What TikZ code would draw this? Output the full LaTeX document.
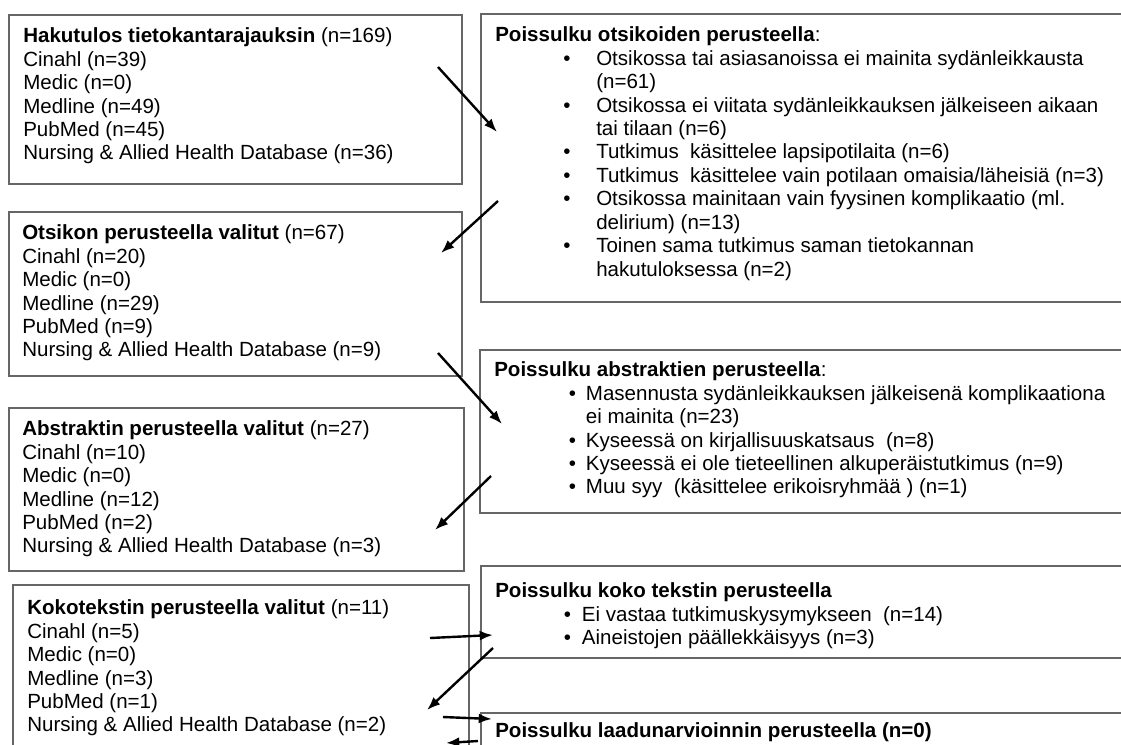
\documentclass[tikz,border=0pt]{standalone}
\usepackage{fontspec}
\setmainfont{Liberation Sans}
\usetikzlibrary{arrows.meta, fit}

\tikzset{
    box/.style={draw=black!60, line width=1.2pt, inner sep=0pt},
    txt/.style={anchor=north west, inner sep=0pt, align=left,
        font=\fontsize{15.4}{17.6}\selectfont},
    flow/.style={-{Latex[length=10pt,width=7.5pt]}, line width=1.8pt},
}
% bullet line and continuation line in the right-hand boxes
\newcommand{\kohta}[3]{\hspace*{#1}\makebox[#2][l]{•}#3}
\newcommand{\jatko}[2]{\hspace*{#1}#2}

\begin{document}
\begin{tikzpicture}[x=0.75pt, y=-0.75pt]
    \useasboundingbox (0,0) rectangle (1121,744);
    \clip (0,0) rectangle (1121,744);

    % left column: selected records
    \node[box, fit={(9,15) (462,184)}]   (hakutulos)  {};
    \node[box, fit={(9,212) (462,376)}]  (otsikko)    {};
    \node[box, fit={(9,408) (464,571)}]  (abstrakti)  {};
    \node[box, fit={(13,585) (469,770)}] (kokoteksti) {};

    % right column: exclusions
    \node[box, fit={(481,14) (1135,302)}]  (poisOtsikko)    {};
    \node[box, fit={(480,350) (1135,513)}] (poisAbstrakti)  {};
    \node[box, fit={(481,566) (1135,658)}] (poisKokoteksti) {};
    \node[box, fit={(481,713) (1135,770)}] (poisLaatu)      {};

    \node[txt] (hakutulosTxt) at (23,27.5) {%
        \textbf{Hakutulos tietokantarajauksin} (n=169)\\
        Cinahl (n=39)\\
        Medic (n=0)\\
        Medline (n=49)\\
        PubMed (n=45)\\
        Nursing \& Allied Health Database (n=36)};
    \node[txt] (otsikkoTxt) at (22,224.5) {%
        \textbf{Otsikon perusteella valitut} (n=67)\\
        Cinahl (n=20)\\
        Medic (n=0)\\
        Medline (n=29)\\
        PubMed (n=9)\\
        Nursing \& Allied Health Database (n=9)};
    \node[txt] (abstraktiTxt) at (22,420.5) {%
        \textbf{Abstraktin perusteella valitut} (n=27)\\
        Cinahl (n=10)\\
        Medic (n=0)\\
        Medline (n=12)\\
        PubMed (n=2)\\
        Nursing \& Allied Health Database (n=3)};
    \node[txt] (kokotekstiTxt) at (27,599.5) {%
        \textbf{Kokotekstin perusteella valitut} (n=11)\\
        Cinahl (n=5)\\
        Medic (n=0)\\
        Medline (n=3)\\
        PubMed (n=1)\\
        Nursing \& Allied Health Database (n=2)};

    \node[txt] (poisOtsikkoTxt) at (495,26.5) {%
        \textbf{Poissulku otsikoiden perusteella}:\\
        \kohta{51pt}{24.75pt}{Otsikossa tai asiasanoissa ei mainita sydänleikkausta}\\
        \jatko{75.75pt}{(n=61)}\\
        \kohta{51pt}{24.75pt}{Otsikossa ei viitata sydänleikkauksen jälkeiseen aikaan}\\
        \jatko{75.75pt}{tai tilaan (n=6)}\\
        \kohta{51pt}{24.75pt}{Tutkimus\ \ käsittelee lapsipotilaita (n=6)}\\
        \kohta{51pt}{24.75pt}{Tutkimus\ \ käsittelee vain potilaan omaisia/läheisiä (n=3)}\\
        \kohta{51pt}{24.75pt}{Otsikossa mainitaan vain fyysinen komplikaatio (ml.}\\
        \jatko{75.75pt}{delirium) (n=13)}\\
        \kohta{51pt}{24.75pt}{Toinen sama tutkimus saman tietokannan}\\
        \jatko{75.75pt}{hakutuloksessa (n=2)}};
    \node[txt] (poisAbstraktiTxt) at (494,361.5) {%
        \textbf{Poissulku abstraktien perusteella}:\\
        \kohta{56pt}{12.75pt}{Masennusta sydänleikkauksen jälkeisenä komplikaationa}\\
        \jatko{68.75pt}{ei mainita (n=23)}\\
        \kohta{56pt}{12.75pt}{Kyseessä on kirjallisuuskatsaus\ \ (n=8)}\\
        \kohta{56pt}{12.75pt}{Kyseessä ei ole tieteellinen alkuperäistutkimus (n=9)}\\
        \kohta{56pt}{12.75pt}{Muu syy\ \ (käsittelee erikoisryhmää ) (n=1)}};
    \node[txt] (poisKokotekstiTxt) at (495,582.5) {%
        \textbf{Poissulku koko tekstin perusteella}\\
        \kohta{51.5pt}{13.5pt}{Ei vastaa tutkimuskysymykseen\ \ (n=14)}\\
        \kohta{51.5pt}{13.5pt}{Aineistojen päällekkäisyys (n=3)}};
    \node[txt] (poisLaatuTxt) at (495,722.5) {%
        \textbf{Poissulku laadunarvioinnin perusteella (n=0)}};

    % arrow ends
    \coordinate (a1) at (438,67);  \coordinate (b1) at (497,132);
    \coordinate (a2) at (498,201); \coordinate (b2) at (441,253);
    \coordinate (a3) at (438,353); \coordinate (b3) at (502,424);
    \coordinate (a4) at (491,476); \coordinate (b4) at (435,530);
    \coordinate (a5) at (430,638); \coordinate (b5) at (493,635);
    \coordinate (a6) at (493,648); \coordinate (b6) at (427,710);
    \coordinate (a7) at (443,717); \coordinate (b7) at (492,719);
    \coordinate (a8) at (478,741); \coordinate (b8) at (446,743);

    \path[flow]
        (a1) edge (b1)
        (a2) edge (b2)
        (a3) edge (b3)
        (a4) edge (b4)
        (a5) edge (b5)
        (a6) edge (b6)
        (a7) edge (b7)
        (a8) edge (b8)
        ;
\end{tikzpicture}
\end{document}
